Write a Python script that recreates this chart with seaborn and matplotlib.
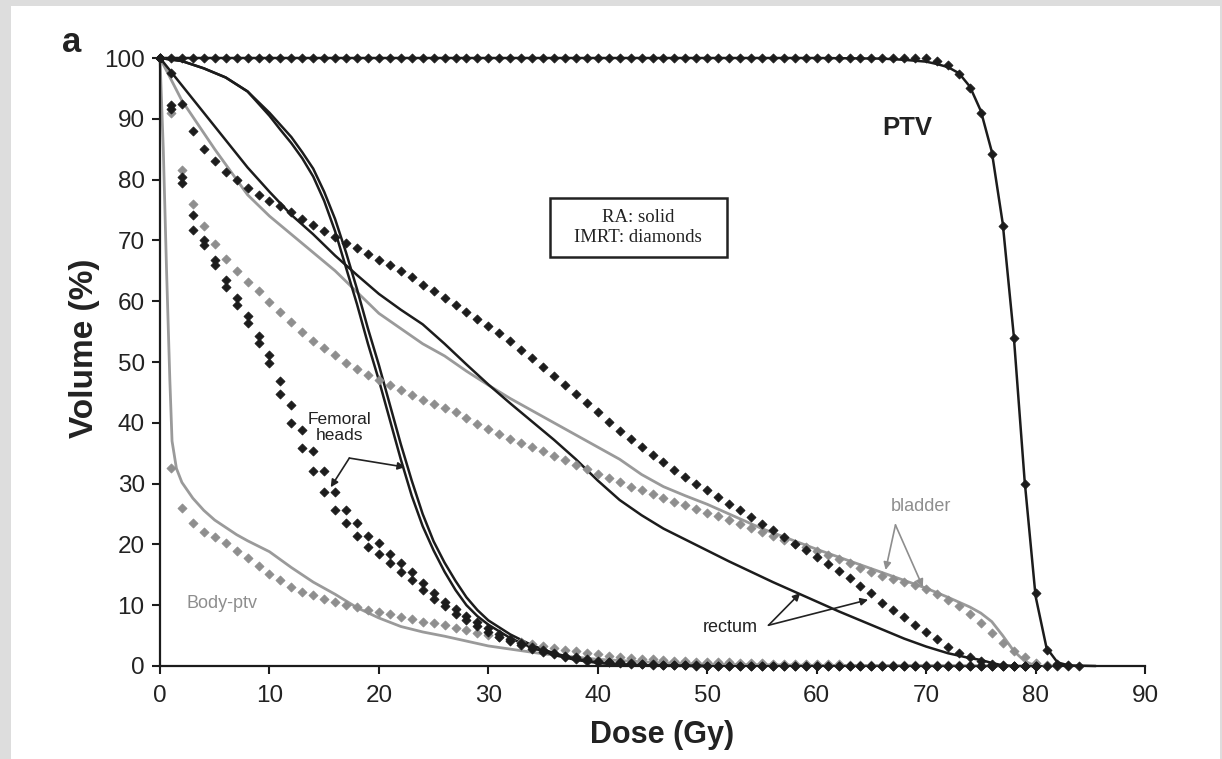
import numpy as np
import pandas as pd
import matplotlib
matplotlib.use("Agg")
import matplotlib.pyplot as plt
from matplotlib.patches import Rectangle
import seaborn as sns

# ---------------- data ----------------
# IMRT series are sampled every 1 Gy (dose index = Gy)
dose_imrt = list(range(0, 86))

ptv_imrt = [100.0] * 71 + [99.5, 98.8, 97.4, 95.0, 91.0, 84.2, 72.4, 54.0, 30.0,
                           12.0, 2.6, 0.4, 0.1, 0.0]

rect_imrt = [100, 97.6, 92.4, 88.0, 85.0, 83.0, 81.3, 79.9, 78.6, 77.5,
             76.4, 75.6, 74.6, 73.6, 72.6, 71.6, 70.6, 69.6, 68.7, 67.8,
             66.8, 65.9, 64.9, 63.9, 62.7, 61.6, 60.5, 59.3, 58.2, 57.1,
             55.9, 54.7, 53.4, 52.0, 50.6, 49.1, 47.7, 46.2, 44.7, 43.2,
             41.7, 40.2, 38.7, 37.3, 36.0, 34.7, 33.5, 32.3, 31.1, 30.0,
             28.9, 27.8, 26.7, 25.6, 24.5, 23.4, 22.3, 21.2, 20.1, 19.0,
             17.9, 16.8, 15.6, 14.4, 13.2, 12.0, 10.4, 9.2, 8.0, 6.8,
             5.6, 4.4, 3.2, 2.1, 1.4, 0.8, 0.4, 0.1, 0, 0, 0]

blad_imrt = [100, 91.0, 81.6, 76.0, 72.4, 69.4, 66.9, 64.9, 63.2, 61.6,
             59.8, 58.2, 56.5, 55.0, 53.5, 52.3, 51.1, 49.9, 48.8, 47.9,
             47.0, 46.2, 45.4, 44.6, 43.8, 43.1, 42.4, 41.7, 40.8, 39.8,
             38.9, 38.1, 37.4, 36.7, 36.0, 35.3, 34.6, 33.9, 33.1, 32.4,
             31.6, 30.9, 30.2, 29.5, 28.9, 28.3, 27.7, 27.0, 26.4, 25.8,
             25.2, 24.6, 24.0, 23.3, 22.7, 22.0, 21.4, 20.7, 20.1, 19.5,
             18.9, 18.2, 17.6, 16.9, 16.2, 15.5, 14.8, 14.3, 13.8, 13.3,
             12.6, 11.8, 10.9, 9.8, 8.5, 7.0, 5.4, 3.8, 2.5, 1.4,
             0.5, 0.1]

body_imrt = [100, 32.5, 26.0, 23.5, 22.0, 21.2, 20.2, 18.9, 17.7, 16.4,
             15.2, 14.1, 13.0, 12.2, 11.6, 11.1, 10.6, 10.1, 9.7, 9.2,
             8.9, 8.5, 8.1, 7.8, 7.3, 7.0, 6.7, 6.3, 5.9, 5.5,
             5.1, 4.7, 4.3, 4.0, 3.6, 3.3, 3.0, 2.7, 2.4, 2.1,
             1.9, 1.7, 1.5, 1.3, 1.2, 1.1, 1.0, 0.9, 0.8, 0.7,
             0.7, 0.6, 0.6, 0.5, 0.5, 0.5, 0.4, 0.4, 0.4, 0.3,
             0.3, 0.3, 0.3, 0.2, 0.2, 0.2, 0.2, 0.2, 0.1, 0.1,
             0.1, 0.1, 0.1, 0.1, 0.1, 0.1, 0, 0, 0, 0,
             0, 0]

femL_imrt = [100, 92.2, 80.5, 74.2, 70.1, 66.8, 63.5, 60.5, 57.5, 54.2,
             51.2, 46.8, 42.9, 38.8, 35.3, 32.0, 28.7, 25.7, 23.5, 21.3,
             20.2, 18.5, 16.9, 15.5, 13.6, 12.0, 10.6, 9.3, 8.2, 7.2,
             6.2, 5.3, 4.5, 3.8, 3.2, 2.6, 2.1, 1.7, 1.4, 1.1,
             0.9, 0.7, 0.6, 0.5, 0.4, 0.3, 0.2, 0.2, 0.1, 0.1,
             0, 0, 0, 0, 0, 0, 0, 0, 0, 0,
             0, 0, 0, 0, 0, 0, 0, 0, 0, 0,
             0, 0, 0, 0, 0, 0, 0, 0, 0, 0, 0]

femR_imrt = [100, 91.6, 79.5, 71.7, 69.2, 66.0, 62.4, 59.4, 56.4, 53.1,
             49.8, 44.8, 39.9, 35.8, 32.0, 28.7, 25.7, 23.5, 21.3, 19.6,
             18.5, 16.9, 15.5, 14.1, 12.5, 11.1, 9.8, 8.6, 7.5, 6.5,
             5.6, 4.8, 4.1, 3.4, 2.8, 2.3, 1.9, 1.5, 1.2, 0.9,
             0.7, 0.6, 0.5, 0.4, 0.3, 0.2, 0.2, 0.1, 0.1, 0,
             0, 0, 0, 0, 0, 0, 0, 0, 0, 0,
             0, 0, 0, 0, 0, 0, 0, 0, 0, 0,
             0, 0, 0, 0, 0, 0, 0, 0, 0, 0, 0, 0, 0, 0]

# RA (solid line) series
ptv_ra_dose = [0, 60, 66, 68, 70, 71, 72, 73, 74, 75, 76, 77, 78, 79, 80, 81, 82, 83, 85.5]
ptv_ra_vol = [100, 100, 99.9, 99.7, 99.4, 99.0, 98.5, 97.5, 95.3, 91.3, 84.6, 72.8,
              54.5, 30.5, 11.5, 3.0, 0.6, 0.1, 0]

rect_ra_dose = [0, 2, 4, 6, 8, 10, 12, 14, 16, 18, 20, 22, 24, 26, 28, 30, 32, 34, 36,
                38, 40, 42, 44, 46, 48, 50, 52, 54, 56, 58, 60, 62, 64, 66, 68, 70,
                72, 74, 75, 76, 77, 78]
rect_ra_vol = [100, 95.5, 91.0, 86.5, 82.0, 78.0, 74.2, 71.0, 67.5, 64.3, 61.2, 58.6,
               56.2, 53.0, 49.6, 46.3, 43.2, 40.2, 37.2, 34.0, 30.5, 27.3, 24.8, 22.6,
               20.8, 19.0, 17.2, 15.5, 13.8, 12.2, 10.6, 9.0, 7.5, 6.0, 4.5, 3.2,
               2.1, 1.3, 1.0, 0.5, 0.1, 0]

blad_ra_dose = [0, 2, 5, 8, 10, 12, 14, 16, 18, 20, 22, 24, 26, 28, 30, 32, 34, 36, 38,
                40, 42, 44, 46, 48, 50, 55, 60, 65, 70, 72, 74, 75, 76, 77, 78, 79, 80]
blad_ra_vol = [100, 93.0, 85.0, 77.5, 74.0, 71.0, 68.0, 65.0, 61.5, 58.0, 55.5, 53.0,
               51.0, 48.5, 46.2, 44.0, 42.0, 40.0, 38.0, 36.0, 34.0, 31.5, 29.5, 28.0,
               26.6, 22.6, 19.2, 16.0, 12.8, 11.3, 9.7, 8.7, 7.3, 5.0, 2.5, 0.8, 0]

body_ra_dose = [0, 0.3, 0.6, 0.9, 1.1, 1.5, 2, 3, 4, 5, 6, 7, 8, 9, 10, 12, 14, 16, 18,
                20, 22, 24, 26, 28, 30, 35, 40, 45, 50, 60, 70, 80]
body_ra_vol = [100, 85, 65, 47, 37, 32.5, 30.2, 27.6, 25.6, 24.0, 22.8, 21.6, 20.6,
               19.7, 18.8, 16.2, 13.8, 11.8, 9.6, 7.9, 6.5, 5.6, 4.9, 4.1, 3.3, 2.0,
               1.1, 0.6, 0.3, 0.1, 0.05, 0]

fem_ra_dose = [0, 2, 4, 6, 8, 10, 11, 12, 13, 14, 15, 16, 17, 18, 19, 20, 21, 22, 23,
               24, 25, 26, 27, 28, 29, 30, 32, 34, 36, 38, 40, 42, 45, 50]
femL_ra_vol = [100, 99.5, 98.3, 96.8, 94.5, 90.5, 88.2, 86.0, 83.5, 80.5, 76.5, 71.5,
               65.5, 59.5, 53.0, 47.0, 40.5, 34.0, 28.0, 23.0, 19.0, 15.5, 12.5, 10.0,
               8.2, 6.8, 4.6, 3.0, 1.8, 1.0, 0.5, 0.2, 0.05, 0]
femR_ra_vol = [100, 99.5, 98.3, 96.8, 94.5, 91.0, 89.0, 87.0, 84.5, 81.8, 78.0, 73.5,
               68.0, 62.0, 55.5, 49.5, 43.0, 36.5, 30.5, 25.0, 20.5, 17.0, 14.0, 11.3,
               9.2, 7.5, 5.2, 3.4, 2.1, 1.2, 0.6, 0.3, 0.1, 0]

x_ticks = [0, 10, 20, 30, 40, 50, 60, 70, 80, 90]
y_ticks = [0, 10, 20, 30, 40, 50, 60, 70, 80, 90, 100]

# ---------------- styling ----------------
sns.set_style("ticks")
plt.rcParams["font.family"] = ["Liberation Sans", "DejaVu Sans"]

BLACK = "#1c1c1c"
TEXT = "#222222"
GRAY = "#8e8e8e"
GRAY_LINE = "#9a9a9a"

fig = plt.figure(figsize=(12.22, 7.59), dpi=100)
fig.patch.set_facecolor("#dddddd")
fig.add_artist(Rectangle((11 / 1222, 0), (1220 - 11) / 1222, (759 - 6) / 759,
                         transform=fig.transFigure, facecolor="white",
                         edgecolor="none", zorder=0))

ax = fig.add_axes([160 / 1222, 1 - 666 / 759, 985 / 1222, 608 / 759])
ax.set_facecolor("none")

def solid(d, v, color, lw, z=2):
    sns.lineplot(x=d, y=v, ax=ax, color=color, lw=lw, estimator=None, sort=False,
                 zorder=z, clip_on=False)

def diamonds(v, color, z=3):
    d = dose_imrt[:len(v)]
    sns.scatterplot(x=d, y=v, ax=ax, marker="D", s=21, color=color,
                    edgecolor=color, linewidth=0.6, zorder=z, clip_on=False)

# RA solid lines
solid(body_ra_dose, body_ra_vol, GRAY_LINE, 2.0)
solid(blad_ra_dose, blad_ra_vol, GRAY_LINE, 2.0)
solid(rect_ra_dose, rect_ra_vol, BLACK, 1.8)
solid(fem_ra_dose, femL_ra_vol, BLACK, 1.8)
solid(fem_ra_dose, femR_ra_vol, BLACK, 1.8)
solid(ptv_ra_dose, ptv_ra_vol, BLACK, 1.8)

# IMRT diamonds
diamonds(body_imrt, GRAY)
diamonds(blad_imrt, GRAY)
diamonds(femL_imrt, BLACK, 4)
diamonds(femR_imrt, BLACK, 4)
diamonds(rect_imrt, BLACK, 4)
diamonds(ptv_imrt, BLACK, 5)

ax.set_xlim(0, 90)
ax.set_ylim(0, 100)
ax.set_xticks(x_ticks)
ax.set_yticks(y_ticks)
ax.tick_params(axis="both", direction="out", length=6, width=1.5, color=BLACK,
               labelsize=17.5, labelcolor=TEXT)
ax.tick_params(axis="x", pad=8)
ax.tick_params(axis="y", pad=5)
for s in ["top", "right"]:
    ax.spines[s].set_visible(False)
for s in ["left", "bottom"]:
    ax.spines[s].set_linewidth(1.6)
    ax.spines[s].set_color(BLACK)

ax.set_xlabel("Dose (Gy)", fontsize=22, fontweight="bold", color=TEXT)
ax.set_ylabel("Volume (%)", fontsize=24, fontweight="bold", color=TEXT)
ax.xaxis.set_label_coords(0.51, -0.088)
ax.yaxis.set_label_coords(-0.061, 0.523)

# annotations
fig.text(72 / 1222, 1 - 42 / 759, "a", fontsize=25, fontweight="bold",
         ha="center", va="center", color=TEXT)
ax.text(68.3, 88.5, "PTV", fontsize=18.5, fontweight="bold", ha="center",
        va="center", color=TEXT)

# legend-like box (RA / IMRT)
ax.add_patch(Rectangle((35.65, 67.3), 16.15, 9.7, facecolor="white",
                       edgecolor=TEXT, lw=1.8, zorder=6))
ax.text(43.7, 72.1, "RA: solid\nIMRT: diamonds", fontsize=13.5,
        family=["Liberation Serif", "DejaVu Serif"], ha="center", va="center",
        linespacing=1.25, color=TEXT, zorder=7)

ax.text(16.4, 39.2, "Femoral\nheads", fontsize=12.5, ha="center", va="center",
        linespacing=1.1, color=TEXT, zorder=7)
ax.text(5.7, 10.2, "Body-ptv", fontsize=13, ha="center", va="center", color=GRAY)
ax.text(69.5, 26.3, "bladder", fontsize=13, ha="center", va="center", color=GRAY)
ax.text(52.1, 6.4, "rectum", fontsize=13, ha="center", va="center", color=TEXT)

def arrow(xy_from, xy_to, color):
    ax.annotate("", xy=xy_to, xytext=xy_from,
                arrowprops=dict(arrowstyle="-|>", color=color, lw=1.2,
                                mutation_scale=11, shrinkA=0, shrinkB=0),
                zorder=6)

arrow((17.3, 34.2), (15.6, 29.4), TEXT)
arrow((17.3, 34.2), (22.4, 32.7), TEXT)
arrow((55.6, 6.7), (58.5, 12.0), TEXT)
arrow((55.6, 6.7), (64.7, 10.9), TEXT)
arrow((67.2, 23.2), (66.3, 15.8), GRAY)
arrow((67.2, 23.2), (69.7, 13.0), GRAY)

fig.savefig("out.png", dpi=100, facecolor=fig.get_facecolor())
